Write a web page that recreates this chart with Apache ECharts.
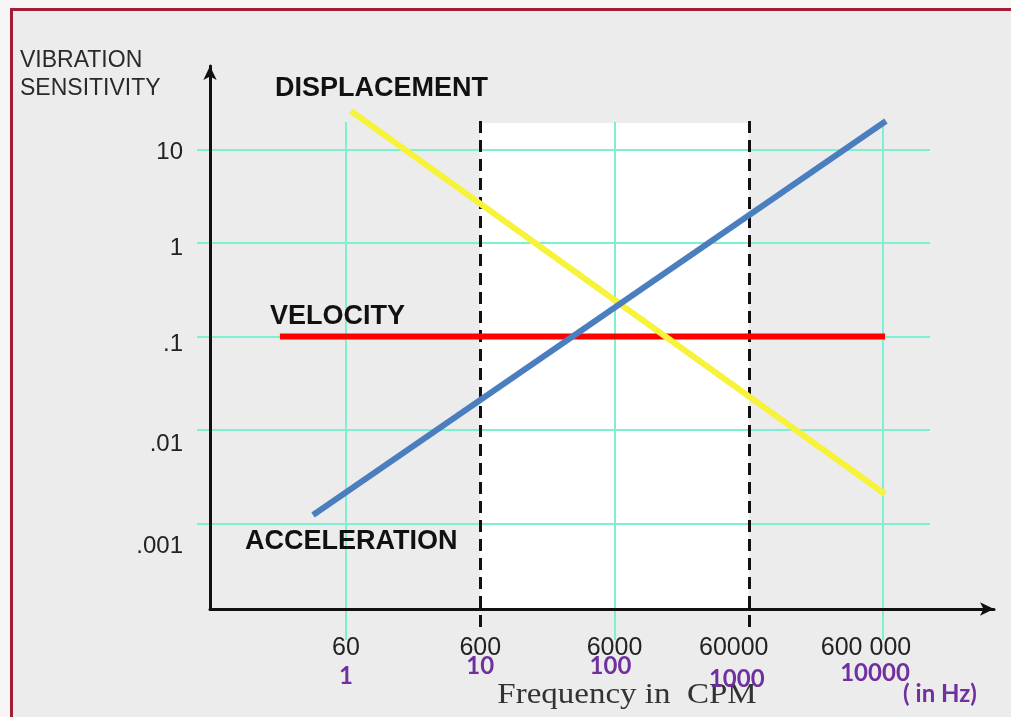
<!DOCTYPE html>
<html><head><meta charset="utf-8">
<script src="https://cdn.jsdelivr.net/npm/echarts@6/dist/echarts.min.js"></script>
<style>html,body{margin:0;padding:0;background:#f5f5f5}#c{width:1011px;height:717px}</style>
</head><body><div id="c"></div><script>
// ---- data (frequency in Hz; CPM = Hz x 60) ----
const hzTicks = [1, 10, 100, 1000, 10000];
const cpmLabels = ['60', '600', '6000', '60000', '600 000'];
const hzLabels = ['1', '10', '100', '1000', '10000'];
const yTicks = [10, 1, 0.1, 0.01, 0.001];
const yLabels = ['10', '1', '.1', '.01', '.001'];
const displacement = [[1.09, 25.8], [10350, 0.00207]];
const velocity = [[0.322, 0.1], [10350, 0.1]];
const acceleration = [[0.568, 0.00123], [10520, 20.2]];
const bandHz = [10, 1000];
const gridHz = [1, 100, 10000];

// ---- layout: pixel scale of the log axes ----
const PX = {x1Hz: 346, xDec: 134.25, y10: 149.5, yDec: 93.5};
const hzAt = p => Math.pow(10, (p - PX.x1Hz) / PX.xDec);
const valAt = p => Math.pow(10, 1 - (p - PX.y10) / PX.yDec);
const pxOfHz = v => PX.x1Hz + Math.log10(v) * PX.xDec;
const pxOfVal = v => PX.y10 + (1 - Math.log10(v)) * PX.yDec;

const grids = [], xAxes = [], yAxes = [];
function box(l, t, r, b) {
  const i = grids.length;
  grids.push({left: l, top: t, width: r - l, height: b - t, outerBoundsMode: 'none', containLabel: false});
  xAxes.push({gridIndex: i, type: 'log', logBase: 10, min: hzAt(l), max: hzAt(r), show: false});
  yAxes.push({gridIndex: i, type: 'log', logBase: 10, min: valAt(b), max: valAt(t), show: false});
  return i;
}
const near = (a, b) => Math.abs(Math.log10(a) - Math.log10(b)) < 1e-6;
// shift a rich-text token by (dx, dy) pixels using padding
const shift = (dx, dy) => [Math.max(0, 2 * dy), dx < 0 ? -2 * dx : 0, 0, dx > 0 ? 2 * dx : 0];

// white band (monitored range) drawn as the background of a grid spanning 10 .. 1000 Hz
const gBand = grids.length;
grids.push({left: pxOfHz(bandHz[0]), width: pxOfHz(bandHz[1]) - pxOfHz(bandHz[0]), top: 123, height: 609 - 123,
            show: true, backgroundColor: '#ffffff', borderWidth: 0, z: -2, outerBoundsMode: 'none'});
xAxes.push({gridIndex: gBand, type: 'log', min: bandHz[0], max: bandHz[1], show: false});
yAxes.push({gridIndex: gBand, type: 'log', min: valAt(609), max: valAt(123), show: false});

const gMain = box(210, 66, 994, 609);
const gDash = box(197, 117, 930, 627);
// horizontal grid lines: a grid spanning exactly 0.001 .. 10
const gH = grids.length;
grids.push({left: 197, width: 930 - 197, top: pxOfVal(Math.max(...yTicks)),
            height: pxOfVal(Math.min(...yTicks)) - pxOfVal(Math.max(...yTicks)), outerBoundsMode: 'none'});
xAxes.push({gridIndex: gH, type: 'log', min: hzAt(197), max: hzAt(930), show: false});
yAxes.push({gridIndex: gH, type: 'log', logBase: 10, min: Math.min(...yTicks), max: Math.max(...yTicks), z: 2,
            axisLine: {show: false}, axisTick: {show: false}, axisLabel: {show: false},
            splitLine: {show: true, showMinLine: true, showMaxLine: true, lineStyle: {color: '#7ef0d2', width: 2}}});
// vertical grid lines: every second decade (1, 100, 10000 Hz)
const gV = grids.length;
grids.push({left: pxOfHz(Math.min(...gridHz)), width: pxOfHz(Math.max(...gridHz)) - pxOfHz(Math.min(...gridHz)),
            top: 122, height: 640 - 122, outerBoundsMode: 'none'});
xAxes.push({gridIndex: gV, type: 'log', logBase: 100, min: Math.min(...gridHz), max: Math.max(...gridHz), z: 2,
            axisLine: {show: false}, axisTick: {show: false}, axisLabel: {show: false},
            splitLine: {show: true, showMinLine: true, showMaxLine: true, lineStyle: {color: '#7ef0d2', width: 2}}});
yAxes.push({gridIndex: gV, type: 'log', min: valAt(640), max: valAt(122), show: false});

const xShift = [[0, 0], [0, 0], [0, 0], [-15, 0], [-17, 0]];
const hzShift = [[0, 11], [0, 1], [-4, 1], [-12, 14], [-8, 8]];
const yShift = [3, 5, 8, 14, 23];

const xRich = {};
hzTicks.forEach((_, i) => {
  xRich['c' + i] = {fontSize: 25, fontFamily: 'Liberation Sans', color: '#222', lineHeight: 10,
                    padding: shift(xShift[i][0], xShift[i][1])};
  xRich['h' + i] = {fontSize: 24, fontFamily: 'Lato', fontWeight: 'bold', color: '#7030a0', lineHeight: 24,
                    padding: shift(hzShift[i][0], hzShift[i][1])};
});
const yRich = {};
yTicks.forEach((_, i) => {
  yRich['y' + i] = {fontSize: 24, fontFamily: 'Liberation Sans', color: '#222', padding: shift(0, yShift[i])};
});

Object.assign(xAxes[gMain], {
  show: true, z: 4,
  axisLine: {show: true, onZero: false, symbol: ['none', 'arrow'], symbolSize: [10, 14],
             lineStyle: {color: '#111', width: 3}},
  axisTick: {show: false}, splitLine: {show: false}, minorSplitLine: {show: false},
  axisLabel: {
    show: true, margin: 34, showMinLabel: false, showMaxLabel: false,
    formatter: v => { const i = hzTicks.findIndex(t => near(t, v)); return i < 0 ? '' : '{c' + i + '|' + cpmLabels[i] + '}\n{h' + i + '|' + hzLabels[i] + '}'; },
    rich: xRich
  }
});
Object.assign(yAxes[gMain], {
  show: true, z: 4,
  axisLine: {show: true, onZero: false, symbol: ['none', 'arrow'], symbolSize: [10, 14],
             lineStyle: {color: '#111', width: 3}},
  axisTick: {show: false}, splitLine: {show: false}, minorSplitLine: {show: false},
  axisLabel: {
    show: true, margin: 27, showMinLabel: false, showMaxLabel: false,
    formatter: v => { const i = yTicks.findIndex(t => near(t, v)); return i < 0 ? '' : '{y' + i + '|' + yLabels[i] + '}'; },
    rich: yRich
  }
});

const lbl = (t, x, y) => ({type: 'text', x, y, z: 50, style: {text: t, fontSize: 27, fontWeight: 'bold',
  fontFamily: 'Liberation Sans', fill: '#111', verticalAlign: 'middle'}});

const option = {
  animation: false,
  grid: grids, xAxis: xAxes, yAxis: yAxes,
  graphic: {elements: [
    {type: 'rect', z: -100, silent: true, shape: {x: 11.5, y: 9.5, width: 1100, height: 800},
     style: {fill: '#ececec', stroke: '#a51c35', lineWidth: 3}},
    {type: 'text', x: 20, y: 61, style: {text: 'VIBRATION', fontSize: 23, fontFamily: 'Liberation Sans', fill: '#2a2a2a', verticalAlign: 'middle'}},
    {type: 'text', x: 20, y: 89, style: {text: 'SENSITIVITY', fontSize: 23, fontFamily: 'Liberation Sans', fill: '#2a2a2a', verticalAlign: 'middle'}},
    lbl('DISPLACEMENT', 275, 89),
    lbl('VELOCITY', 270, 317),
    lbl('ACCELERATION', 245, 542),
    {type: 'text', x: 627, y: 695, scaleX: 1.1, style: {text: 'Frequency in  CPM', fontSize: 30, fontFamily: 'Liberation Serif', fill: '#333', align: 'center', verticalAlign: 'middle'}},
    {type: 'text', x: 940, y: 694, style: {text: '( in Hz)', fontSize: 24, fontWeight: 'bold', fontFamily: 'Lato', fill: '#7030a0', align: 'center', verticalAlign: 'middle'}}
  ]},
  series: [
    {type: 'line', xAxisIndex: gDash, yAxisIndex: gDash, data: [], z: 3, silent: true,
     markLine: {silent: true, symbol: 'none', label: {show: false}, animation: false,
       lineStyle: {color: '#111', width: 3, type: [12, 7]},
       data: bandHz.map(v => ({xAxis: v}))}},
    {name: 'VELOCITY', type: 'line', xAxisIndex: gMain, yAxisIndex: gMain, data: velocity, z: 5,
     showSymbol: false, lineStyle: {color: '#ff0000', width: 6}},
    {name: 'DISPLACEMENT', type: 'line', xAxisIndex: gMain, yAxisIndex: gMain, data: displacement, z: 6,
     showSymbol: false, lineStyle: {color: '#f7f23a', width: 6}},
    {name: 'ACCELERATION', type: 'line', xAxisIndex: gMain, yAxisIndex: gMain, data: acceleration, z: 7,
     showSymbol: false, lineStyle: {color: '#4a7ebf', width: 6}}
  ]
};
const chart = echarts.init(document.getElementById('c'), null, {renderer: 'canvas'});
chart.setOption(option);
</script></body></html>
